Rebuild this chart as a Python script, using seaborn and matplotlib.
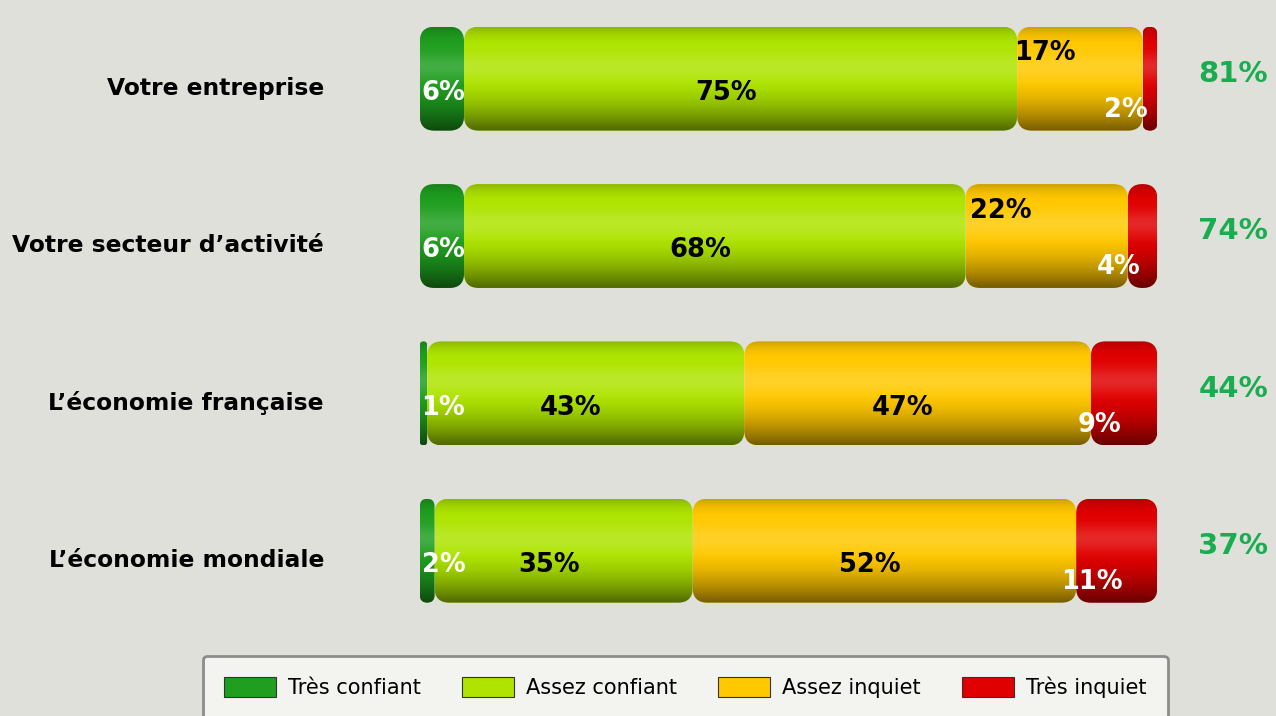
import numpy as np
import pandas as pd
import matplotlib
matplotlib.use("Agg")
import matplotlib.pyplot as plt
from matplotlib.patches import Rectangle, FancyBboxPatch
import seaborn as sns

categories = ["Votre entreprise", "Votre secteur d\u2019activit\u00e9",
              "L\u2019\u00e9conomie fran\u00e7aise", "L\u2019\u00e9conomie mondiale"]
tres_confiant = [6, 6, 1, 2]
assez_confiant = [75, 68, 43, 35]
assez_inquiet = [17, 22, 47, 52]
tres_inquiet = [2, 4, 9, 11]
series_names = ["Tr\u00e8s confiant", "Assez confiant", "Assez inquiet", "Tr\u00e8s inquiet"]
series_colors = ["#1f9e1f", "#aee400", "#ffc800", "#e00000"]
label_colors = ["white", "black", "black", "white"]

df = pd.DataFrame({"cat": categories,
                   series_names[0]: tres_confiant,
                   series_names[1]: assez_confiant,
                   series_names[2]: assez_inquiet,
                   series_names[3]: tres_inquiet})
totals = df[series_names[0]] + df[series_names[1]]

bg = "#e0e0da"
sns.set_theme(style="white")
plt.rcParams["font.family"] = ["DejaVu Sans"]
plt.rcParams["text.color"] = "black"

fig = plt.figure(figsize=(12.76, 7.16), dpi=100, facecolor=bg)
ax = fig.add_axes([0.329, 0.121, 0.578, 0.879])
ax.set_facecolor(bg)

# vertical shading profile to give the bars a rounded look
t = np.linspace(0, 1, 200)[:, None]
dark = 0.55 * np.clip((t - 0.5) / 0.5, 0, 1) ** 1.6 + 0.2 * np.clip((0.18 - t) / 0.18, 0, 1) ** 2
light = 0.16 * np.exp(-((t - 0.38) / 0.13) ** 2)
shade_dark = np.zeros((200, 1, 4)); shade_dark[..., 3] = dark
shade_light = np.ones((200, 1, 4)); shade_light[..., 3] = light

left = np.zeros(len(df))
for k, (name, col, lc) in enumerate(zip(series_names, series_colors, label_colors)):
    n_before = len(ax.patches)
    sns.barplot(data=df, x=name, y="cat", orient="h", left=left, color=col,
                width=0.66, saturation=1, ax=ax, edgecolor="none")
    for i, p in enumerate(list(ax.patches[n_before:])):
        x0, y0 = p.get_x(), p.get_y()
        w, h = p.get_width(), p.get_height()
        r = min(2.0, w / 2)
        clip = FancyBboxPatch((x0, y0), w, h, boxstyle=f"round,pad=0,rounding_size={r}",
                              mutation_aspect=0.047, transform=ax.transData,
                              facecolor="none", edgecolor="none")
        p.set_clip_path(clip)
        for img in (shade_dark, shade_light):
            im = ax.imshow(img, extent=[x0, x0 + w, y0 + h, y0], aspect="auto",
                           interpolation="bilinear", zorder=p.get_zorder() + 0.1)
            im.set_clip_path(clip)
        v = df[name].iloc[i]
        if k == 0:
            tx, ty = x0 + 3.2, i + 0.09
        elif k == 3:
            tx, ty = x0 + w / 2 - 3.3, i + 0.2
        elif v < 25:
            tx, ty = x0 + w * 0.22, i - 0.16
        else:
            tx, ty = x0 + w / 2 - 2.0, i + 0.09
        ax.text(tx, ty, f"{v}%", ha="center", va="center", color=lc,
                fontsize=18.5, fontweight="bold", zorder=5)
    left = left + df[name].values

for i, (cat, tot) in enumerate(zip(categories, totals)):
    ax.text(110.3, i - 0.03, f"{tot}%", ha="center", va="center", color="#1aad50",
            fontsize=21, fontweight="bold", clip_on=False)
    ax.text(-13.0, i + 0.06, cat, ha="right", va="center", color="black",
            fontsize=16.8, fontweight="bold", clip_on=False)

ax.set_xlim(0, 100)
ax.set_ylim(3.5, -0.5)
ax.set_xlabel("")
ax.set_ylabel("")
ax.set_xticks([])
ax.set_yticks([])
sns.despine(ax=ax, left=True, bottom=True)

handles = [Rectangle((0, 0), 1, 1, facecolor=c, edgecolor="#333333", linewidth=0.8)
           for c in series_colors]
leg = fig.legend(handles, series_names, loc="upper center", bbox_to_anchor=(0.537, 0.084),
                 ncol=4, fontsize=15, frameon=True, fancybox=True, handlelength=2.5,
                 handleheight=1.05, handletextpad=0.6, columnspacing=1.95, borderpad=1.0,
                 borderaxespad=0, labelcolor="black")
fr = leg.get_frame()
fr.set_facecolor("#f3f3f0")
fr.set_edgecolor("#8c8c8c")
fr.set_linewidth(2)
fr.set_alpha(1)

fig.savefig("out.png", dpi=100, facecolor=bg)
